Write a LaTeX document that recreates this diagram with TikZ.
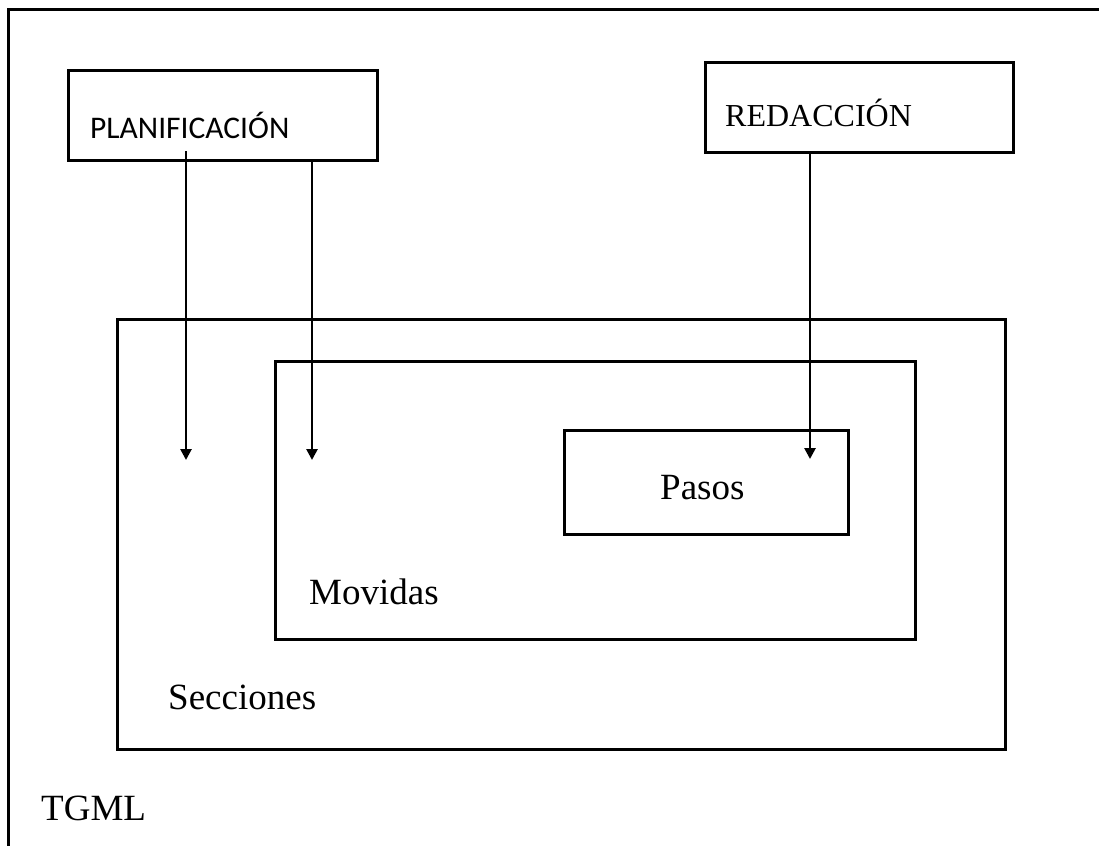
\documentclass[tikz,border=0pt]{standalone}
\usepackage{fontspec}
\setmainfont{Liberation Serif}
\newfontfamily\calib{Carlito}
\usetikzlibrary{arrows.meta}
\begin{document}
\begin{tikzpicture}[x=1pt,y=-1pt,
  box/.style={draw,line width=2.6pt,rectangle,inner sep=0pt,anchor=north west},
  lbl/.style={anchor=base west,inner sep=0pt,font=\fontsize{37}{40}\selectfont},
  arr/.style={line width=2.6pt,-{Triangle[width=11pt,length=11pt]}}]
\useasboundingbox (0,0) rectangle (1099,846);
% frame
\draw[line width=3pt] (1099,9) -- (8,9) -- (8,846);
% boxes
\node[box,minimum width=309pt,minimum height=90pt] (plan) at (67,69) {};
\node[box,minimum width=308pt,minimum height=90pt] (red) at (704,61) {};
\node[box,minimum width=888pt,minimum height=430pt] (sec) at (116,318) {};
\node[box,minimum width=640pt,minimum height=278pt] (mov) at (274,360) {};
\node[box,minimum width=284pt,minimum height=104pt] (pas) at (563,429) {};
% labels
\node[lbl,font=\calib\fontsize{31.5}{36}\selectfont] (tplan) at (90,138) {PLANIFICACIÓN};
\node[lbl,font=\fontsize{32}{36}\selectfont] (tred) at (725,126) {REDACCIÓN};
\node[lbl] (tmov) at (309,604) {Movidas};
\node[lbl] (tsec) at (168,709) {Secciones};
\node[lbl] (tpas) at (660,499) {Pasos};
\node[lbl] (ttgml) at (41,820) {TGML};
% arrow endpoints
\coordinate (a1s) at (186,151);
\coordinate (a1e) at (186,460);
\coordinate (a2s) at (312,159);
\coordinate (a2e) at (312,460);
\coordinate (a3s) at (810,151);
\coordinate (a3e) at (810,459);
\draw[arr] (a1s) -- (a1e);
\draw[arr] (a2s) -- (a2e);
\draw[arr] (a3s) -- (a3e);
\end{tikzpicture}
\end{document}
